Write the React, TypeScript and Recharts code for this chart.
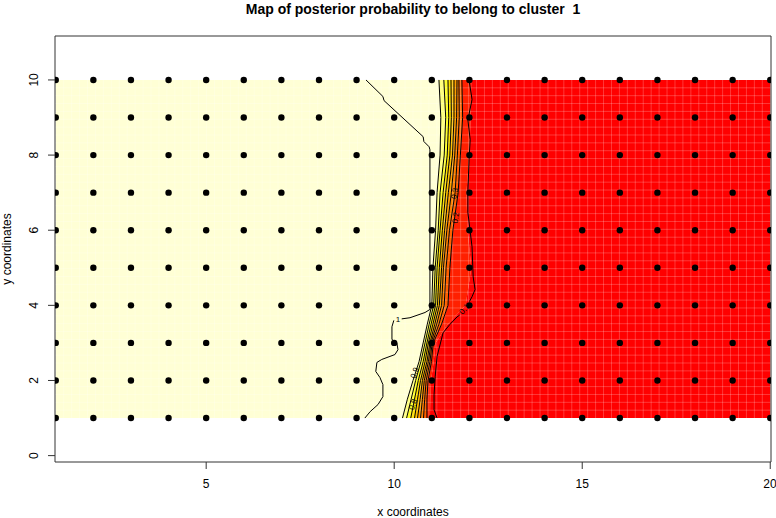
import React from 'react';
import { ComposedChart, Area, Line, Scatter, XAxis, YAxis, ReferenceArea, ReferenceLine } from 'recharts';

// sampling grid (points drawn as black dots)
const xs = [1, 2, 3, 4, 5, 6, 7, 8, 9, 10, 11, 12, 13, 14, 15, 16, 17, 18, 19, 20];
const ys = [1, 2, 3, 4, 5, 6, 7, 8, 9, 10];

const xTicks = [5, 10, 15, 20];
const yTicks = [0, 2, 4, 6, 8, 10];
const xDomain = [0.98, 20.02];
const yDomain = [-0.17, 11.17];

// rows of the probability map: x position where p crosses each level
const rowY = [1, 1.5, 2, 2.5, 3, 3.5, 4, 5, 6, 7, 8, 9, 10];
const p09 = [10.22, 10.35, 10.5, 10.66, 10.77, 10.88, 11.0, 11.03, 11.1, 11.14, 11.22, 11.24, 11.19];
const p08 = [10.33, 10.45, 10.57, 10.71, 10.82, 10.93, 11.05, 11.09, 11.17, 11.22, 11.33, 11.37, 11.32];
const p07 = [10.44, 10.54, 10.64, 10.77, 10.87, 10.98, 11.1, 11.14, 11.22, 11.3, 11.41, 11.45, 11.43];
const p06 = [10.54, 10.62, 10.7, 10.82, 10.91, 11.03, 11.15, 11.2, 11.28, 11.37, 11.48, 11.52, 11.51];
const p05 = [10.62, 10.69, 10.75, 10.87, 10.95, 11.08, 11.2, 11.26, 11.34, 11.44, 11.55, 11.59, 11.59];
const p04 = [10.7, 10.75, 10.8, 10.91, 10.98, 11.13, 11.26, 11.31, 11.4, 11.52, 11.61, 11.66, 11.67];
const p03 = [10.78, 10.81, 10.85, 10.95, 11.01, 11.19, 11.33, 11.38, 11.47, 11.62, 11.68, 11.73, 11.72];
const p02 = [10.87, 10.87, 10.9, 10.99, 11.04, 11.26, 11.43, 11.48, 11.56, 11.7, 11.76, 11.82, 11.8];
const redEdge = [10.95, 10.96, 10.98, 11.05, 11.1, 11.42, 11.9, 12.05, 11.95, 11.92, 12.0, 12.03, 12.05];

// traced contour lines with more detail
const contourOneTop = [
  { x: 9.25, y: 10.0 }, { x: 9.7, y: 9.56 }, { x: 9.73, y: 9.45 }, { x: 10.77, y: 8.49 },
  { x: 10.79, y: 8.36 }, { x: 10.93, y: 8.22 }, { x: 10.95, y: 8.14 }, { x: 10.95, y: 4.02 },
  { x: 10.95, y: 3.89 }, { x: 10.82, y: 3.81 }, { x: 10.42, y: 3.67 }, { x: 10.2, y: 3.64 },
];
const contourOneBottom = [
  { x: 9.99, y: 3.6 }, { x: 9.94, y: 3.43 }, { x: 9.94, y: 3.09 }, { x: 10.07, y: 3.01 },
  { x: 10.1, y: 2.82 }, { x: 10.02, y: 2.69 }, { x: 9.67, y: 2.56 }, { x: 9.54, y: 2.48 },
  { x: 9.51, y: 2.24 }, { x: 9.62, y: 2.08 }, { x: 9.7, y: 1.89 }, { x: 9.7, y: 1.57 },
  { x: 9.57, y: 1.36 }, { x: 9.36, y: 1.17 }, { x: 9.22, y: 1.0 },
];
const contourTenthTop = [
  { x: 11.99, y: 10.0 }, { x: 12.07, y: 9.48 }, { x: 11.96, y: 8.94 }, { x: 12.02, y: 8.41 },
  { x: 11.99, y: 7.88 }, { x: 11.96, y: 7.0 }, { x: 11.96, y: 6.47 }, { x: 12.07, y: 5.56 },
  { x: 12.1, y: 4.76 }, { x: 12.15, y: 4.42 }, { x: 12.07, y: 4.23 }, { x: 12.0, y: 4.1 },
];
const contourTenthBottom = [
  { x: 11.74, y: 3.74 }, { x: 11.67, y: 3.69 }, { x: 11.48, y: 3.49 }, { x: 11.3, y: 3.27 },
  { x: 11.14, y: 2.64 }, { x: 11.09, y: 2.1 }, { x: 11.06, y: 1.62 }, { x: 11.06, y: 1.22 },
  { x: 11.14, y: 1.0 },
];

const contourLabels = [
  { x: 10.1, y: 3.62, text: '1', angle: 0 },
  { x: 11.87, y: 3.9, text: '0.1', angle: -50 },
  { x: 11.64, y: 6.33, text: '0.2', angle: -82 },
  { x: 11.61, y: 6.98, text: '0.3', angle: -80 },
  { x: 10.55, y: 2.2, text: '0.9', angle: -70 },
  { x: 10.5, y: 1.36, text: '0.8', angle: -70 },
];

const rows = rowY.map((y, i) => ({
  y,
  left: xs[0],
  right: xs[xs.length - 1],
  p09: p09[i],
  p08: p08[i],
  p07: p07[i],
  p06: p06[i],
  p05: p05[i],
  p04: p04[i],
  p03: p03[i],
  p02: p02[i],
  red: redEdge[i],
}));

const bands: [string, string, string][] = [
  ['left', 'right', '#FFFFD5'],
  ['p09', 'p08', '#FFFF80'],
  ['p08', 'p07', '#FFFF2A'],
  ['p07', 'p06', '#FFDF00'],
  ['p06', 'p05', '#FFBF00'],
  ['p05', 'p04', '#FF9F00'],
  ['p04', 'p03', '#FF8000'],
  ['p03', 'p02', '#FF6000'],
  ['p02', 'red', '#FF2000'],
  ['red', 'right', '#FF0000'],
];
const levelKeys = ['p09', 'p08', 'p07', 'p06', 'p05', 'p04', 'p03', 'p02'];

const gridPoints = xs.flatMap((x) => ys.map((y) => ({ x, y })));

// faint seams between image cells (rendering artefact of the raster map)
const CELLS_X = 90;
const CELLS_Y = 43;
const seamX = Array.from({ length: CELLS_X - 1 }, (_, i) => xs[0] + ((i + 1) * (xs[xs.length - 1] - xs[0])) / CELLS_X);
const seamY = Array.from({ length: CELLS_Y - 1 }, (_, i) => ys[0] + ((i + 1) * (ys[ys.length - 1] - ys[0])) / CELLS_Y);

const FONT = '"Liberation Sans", Arial, Helvetica, sans-serif';

function YTick({ x, y, payload }: any) {
  return (
    <text
      transform={`translate(${x - 8}, ${y}) rotate(-90)`}
      textAnchor="middle"
      fontSize={12}
      fontFamily={FONT}
      fill="#000"
    >
      {payload.value}
    </text>
  );
}

function ContourLabel({ cx, cy, payload }: any) {
  return (
    <text
      transform={`translate(${cx}, ${cy}) rotate(${payload.angle})`}
      textAnchor="middle"
      dominantBaseline="central"
      fontSize={8}
      fontFamily={FONT}
      fill="#000"
    >
      {payload.text}
    </text>
  );
}

function Dot({ cx, cy }: any) {
  return <circle cx={cx} cy={cy} r={3.2} fill="#000" />;
}

export default function App() {
  return (
    <div style={{ position: 'absolute', left: 0, top: 0, width: 776, height: 518, background: '#fff' }}>
      <ComposedChart
        width={776}
        height={518}
        layout="vertical"
        data={rows}
        margin={{ top: 36, right: 5, bottom: 0, left: 0 }}
      >
        <XAxis
          type="number"
          dataKey="x"
          domain={xDomain}
          ticks={xTicks}
          allowDataOverflow
          axisLine={false}
          tickSize={7}
          tickMargin={10}
          tickLine={{ stroke: '#333' }}
          tick={{ fill: '#000', fontSize: 12, fontFamily: FONT }}
          height={56}
        />
        <YAxis
          type="number"
          dataKey="y"
          domain={yDomain}
          ticks={yTicks}
          allowDataOverflow
          reversed
          axisLine={false}
          tickSize={7}
          tickLine={{ stroke: '#333' }}
          tick={<YTick />}
          width={55}
        />
        {bands.map(([lo, hi, color]) => (
          <Area
            key={lo + hi}
            type="linear"
            dataKey={(d: any) => [d[lo], d[hi]]}
            fill={color}
            fillOpacity={1}
            stroke="none"
            dot={false}
            activeDot={false}
            isAnimationActive={false}
          />
        ))}
        {seamX.map((x) => (
          <ReferenceLine
            key={'sx' + x}
            segment={[{ x, y: ys[0] }, { x, y: ys[ys.length - 1] }]}
            stroke="#fff"
            strokeOpacity={0.22}
            strokeWidth={1}
          />
        ))}
        {seamY.map((y) => (
          <ReferenceLine
            key={'sy' + y}
            segment={[{ x: xs[0], y }, { x: xs[xs.length - 1], y }]}
            stroke="#fff"
            strokeOpacity={0.22}
            strokeWidth={1}
          />
        ))}
        {levelKeys.map((k) => (
          <Line
            key={k}
            type="linear"
            dataKey={k}
            stroke="#000"
            strokeWidth={1}
            dot={false}
            activeDot={false}
            isAnimationActive={false}
          />
        ))}
        {[contourOneTop, contourOneBottom, contourTenthTop, contourTenthBottom].map((c, i) => (
          <Line
            key={'c' + i}
            data={c}
            type="linear"
            dataKey="x"
            stroke="#000"
            strokeWidth={1}
            dot={false}
            activeDot={false}
            isAnimationActive={false}
          />
        ))}
        <Scatter data={contourLabels} shape={<ContourLabel />} isAnimationActive={false} />
        <Scatter data={gridPoints} shape={<Dot />} isAnimationActive={false} />
        <ReferenceArea
          x1={xDomain[0]}
          x2={xDomain[1]}
          y1={yDomain[0]}
          y2={yDomain[1]}
          fill="none"
          stroke="#333"
          ifOverflow="visible"
        />
      </ComposedChart>
      <svg
        width={776}
        height={518}
        style={{ position: 'absolute', left: 0, top: 0, pointerEvents: 'none' }}
      >
        <text
          x={413}
          y={14}
          textAnchor="middle"
          fontSize={14}
          fontWeight="bold"
          fontFamily={FONT}
          fill="#000"
          style={{ whiteSpace: 'pre' }}
        >
          {'Map of posterior probability to belong to cluster  1'}
        </text>
        <text x={413} y={516} textAnchor="middle" fontSize={12} fontFamily={FONT} fill="#000">
          x coordinates
        </text>
        <text
          transform="translate(11, 249) rotate(-90)"
          textAnchor="middle"
          fontSize={12}
          fontFamily={FONT}
          fill="#000"
        >
          y coordinates
        </text>
      </svg>
    </div>
  );
}
